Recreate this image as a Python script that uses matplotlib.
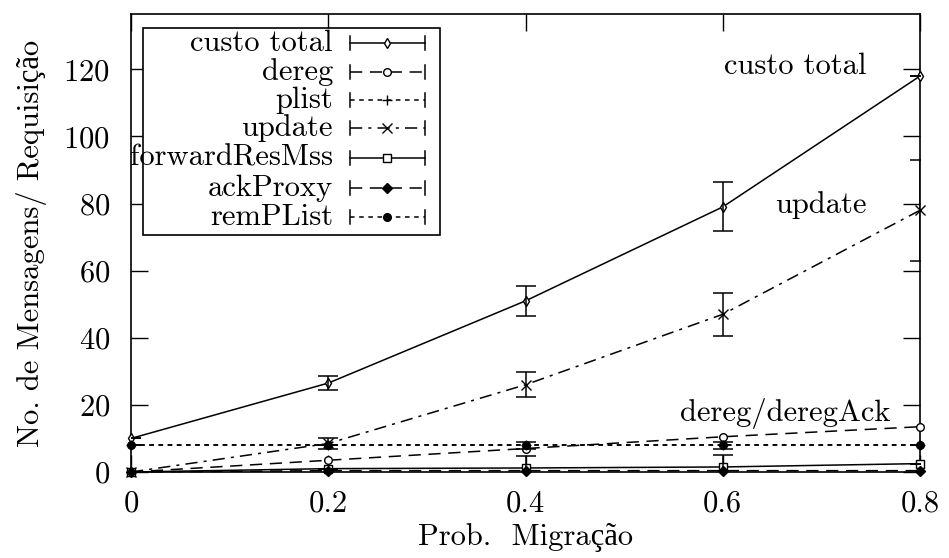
import matplotlib
matplotlib.use("Agg")
import matplotlib.pyplot as plt
from matplotlib.lines import Line2D

plt.rcParams['font.family'] = ['cmr10', 'Liberation Serif', 'DejaVu Serif']
plt.rcParams['axes.formatter.use_mathtext'] = True
plt.rcParams['mathtext.fontset'] = 'cm'

prob = [0.0, 0.2, 0.4, 0.6, 0.8]
x_ticklabels = ['0', '0.2', '0.4', '0.6', '0.8']

custo_total = [10, 26.5, 51, 79, 118]
custo_err = [0, 2.1, 4.4, 7.3, 0]
dereg = [0, 3.5, 7, 10.5, 13.5]
plist = [8, 8, 8, 8, 8]
update = [0, 8.5, 26, 47, 78]
update_err = [0, 1.5, 3.7, 6.4, 15]
forward_res = [0, 1, 1.2, 1.5, 2.5]
forward_err = [0, 0, 3.5, 3.5, 0]
ack_proxy = [0, 0.4, 0.4, 0.4, 0.4]
rem_plist = [8, 8, 8, 8, 8]
rem_err = [0, 0, 1, 1, 0]

FS = 22
W, H = 949, 558

def fx(px):
    return px / W

def fy(py):
    return 1 - py / H

# (label, values, errors, linestyle, marker, filled)
series = [
    ('custo total', custo_total, custo_err, '-', 'd', False),
    ('dereg', dereg, None, (0, (8, 5)), 'o', False),
    ('plist', plist, None, (0, (3, 3)), '+', False),
    ('update', update, update_err, (0, (8, 4, 2, 4)), 'x', False),
    ('forwardResMss', forward_res, forward_err, '-', 's', False),
    ('ackProxy', ack_proxy, None, (0, (8, 5)), 'D', True),
    ('remPList', rem_plist, rem_err, (0, (3, 3)), 'o', True),
]

fig = plt.figure(figsize=(W / 100, H / 100), dpi=100)
ax = fig.add_axes([fx(131), fy(472), fx(920) - fx(131), fy(14) - fy(472)])

for label, vals, errs, ls, mk, filled in series:
    ax.plot(prob, vals, color='black', linestyle=ls, linewidth=1.1,
            marker=mk, markersize=5.5 if mk not in ('+', 'x') else 7,
            markerfacecolor='black' if filled else 'white',
            markeredgecolor='black', markeredgewidth=1.0, clip_on=False, zorder=3)
    if errs is not None:
        ax.errorbar(prob, vals, yerr=errs, fmt='none', ecolor='black',
                    elinewidth=1.1, capsize=7, capthick=1.1, zorder=3)

ax.set_xlim(0, 0.8)
ax.set_ylim(0, 136.5)
ax.set_xticks(prob)
ax.set_xticklabels(x_ticklabels)
ax.set_yticks([0, 20, 40, 60, 80, 100, 120])
ax.tick_params(which='both', direction='in', top=True, right=True,
               length=12, width=1.0, labelsize=FS)
ax.tick_params(axis='y', pad=15)
ax.tick_params(axis='x', pad=13)
for sp in ax.spines.values():
    sp.set_linewidth(1.2)

ax.set_xlabel('Prob.  Migração', fontsize=FS, labelpad=4)
ax.set_ylabel('No. de Mensagens/ Requisição', fontsize=FS, labelpad=12)

ax.text(0.674, 121, 'custo total', fontsize=FS, ha='center', va='center')
ax.text(0.70, 79.5, 'update', fontsize=FS, ha='center', va='center')
ax.text(0.663, 17.3, 'dereg/deregAck', fontsize=FS, ha='center', va='center')

# gnuplot style key box
key = plt.Rectangle((fx(143), fy(235)), fx(440) - fx(143), fy(28) - fy(235),
                    transform=fig.transFigure, facecolor='white',
                    edgecolor='black', linewidth=1.2, zorder=5)
fig.add_artist(key)
row_y = [43, 72, 100, 128, 158, 188, 217]
for (label, vals, errs, ls, mk, filled), ry in zip(series, row_y):
    fig.text(fx(333), fy(ry), label, fontsize=FS, ha='right', va='center', zorder=6)
    fig.add_artist(Line2D([fx(350), fx(425)], [fy(ry), fy(ry)], transform=fig.transFigure,
                          color='black', linestyle=ls, linewidth=1.1, zorder=6))
    for ex in (350, 425):
        fig.add_artist(Line2D([fx(ex), fx(ex)], [fy(ry - 7), fy(ry + 7)],
                              transform=fig.transFigure, color='black',
                              linewidth=1.1, zorder=6))
    fig.add_artist(Line2D([fx(387)], [fy(ry)], transform=fig.transFigure,
                          marker=mk, markersize=5.5 if mk not in ('+', 'x') else 7,
                          markerfacecolor='black' if filled else 'white',
                          markeredgecolor='black', markeredgewidth=1.0,
                          linestyle='none', zorder=7))

fig.savefig('out.png', dpi=100)
